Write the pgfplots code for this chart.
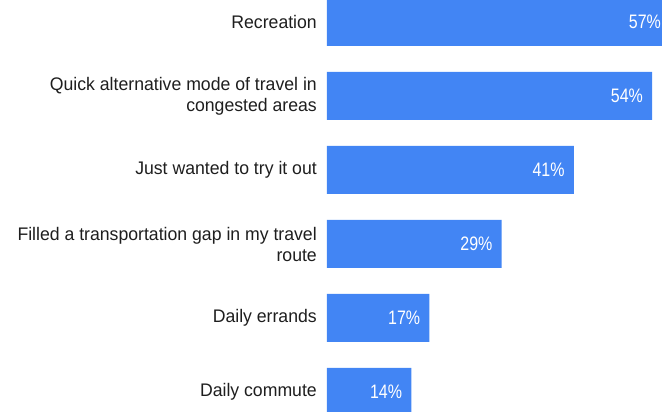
\documentclass[border=0pt]{standalone}
\usepackage{fontspec}
\setmainfont{Liberation Sans}
\newfontfamily\lblfont[FakeStretch=0.97]{Liberation Sans}
\newfontfamily\pctfont[FakeStretch=0.82]{Liberation Sans}
\usepackage{pgfplots}
\pgfplotsset{compat=1.18}
\definecolor{barblue}{HTML}{4285F4}
\definecolor{lbl}{HTML}{1E1E1E}
\begin{document}
\begin{tikzpicture}[x=1pt,y=1pt]
\path[clip, use as bounding box] (0,0) rectangle (662,412);
\begin{axis}[
  at={(327pt,-17pt)}, anchor=south west,
  scale only axis, width=335pt, height=444pt,
  xbar, bar width=48pt,
  xmin=0, xmax=55.65, ymin=-0.5, ymax=5.5,
  axis x line=none,
  axis y line*=left,
  y axis line style={draw=none},
  major tick length=0pt,
  ytick={0,1,2,3,4,5},
  yticklabels={Daily commute, Daily errands, {Filled a transportation gap in my travel\\route}, Just wanted to try it out, {Quick alternative mode of travel in\\congested areas}, Recreation},
  yticklabel style={align=right, font=\lblfont\fontsize{18.2}{21}\selectfont, text=lbl, inner sep=0pt, xshift=-10pt},
  /pgf/number format/assume math mode=true,
  point meta=x,
  nodes near coords={\pgfmathprintnumber{\pgfplotspointmeta}\%},
  nodes near coords style={anchor=east, xshift=-9pt, text=white, font=\pctfont\fontsize{19.5}{20}\selectfont, inner sep=0pt},
  clip=false,
]
\addplot[fill=barblue, draw=none] coordinates {(14,0) (17,1) (29,2) (41,3) (54,4) (57,5)};
\end{axis}
\end{tikzpicture}
\end{document}
